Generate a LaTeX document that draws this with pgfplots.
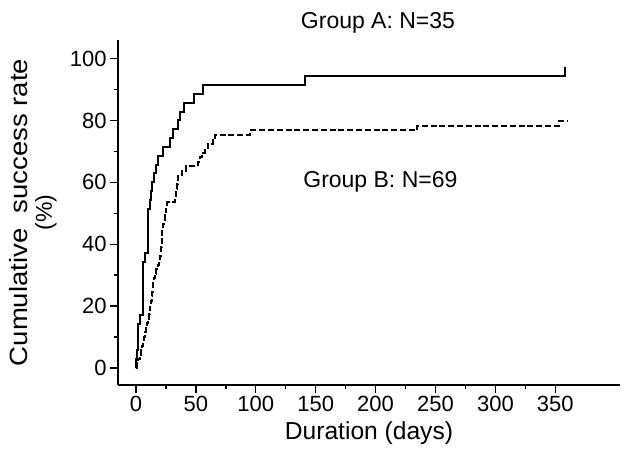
\documentclass[border=0pt]{standalone}
\usepackage{fontspec}
\setmainfont{Liberation Sans}
\usepackage{graphicx}
\usepackage{pgfplots}
\usepackage{pgfplotstable}
\pgfplotsset{compat=1.18}

% Group A, N=35 (cumulative %, steps of 1/35)
\pgfplotstableread{
day rate
0    0
0.3  2.86
0.6  5.71
1.7  14.29
3    17.14
5.8  34.29
7.2  37.14
10   51.43
11.4 54.29
12.5 57.14
13.5 60.00
15   62.86
16.5 65.71
18.5 68.57
22.8 71.43
28   74.29
31   77.14
35.4 80.00
37   82.86
40   85.71
48.5 88.57
55.7 91.43
141  94.29
358  97.14
}\groupA

% Group B, N=69 (cumulative %, steps of 1/69)
\pgfplotstableread{
day rate
0    0
0.5  1.45
1.5  2.90
3    4.35
4.2  5.80
5    7.25
5.8  8.70
6.5  10.14
7.2  11.59
8    13.04
9    14.49
9.8  15.94
10.5 17.39
11.3 18.84
12   20.29
12.8 21.74
13.2 23.19
13.6 24.64
14   26.09
14.4 27.54
15   28.99
15.6 30.43
17   31.88
18.4 33.33
19.5 34.78
20.3 36.23
21   37.68
21.2 39.13
21.4 40.58
21.6 42.03
21.8 43.48
22   44.93
22.5 46.38
23.2 47.83
24   49.28
24.8 50.72
25.4 52.17
26   53.62
32.5 55.07
33.2 56.52
33.8 57.97
34.3 59.42
34.7 60.87
35.2 62.32
38   63.77
41.5 65.22
51.5 66.67
53.5 68.12
55   69.57
57.6 71.01
60   72.46
64   73.91
66   75.36
95   76.81
234.5 78.26
353  79.71
361  79.71
}\groupB

\begin{document}
\begin{tikzpicture}
\begin{axis}[
  scale only axis,
  width=251pt, height=172.5pt,
  xmin=-15, xmax=404,
  ymin=-5.5, ymax=106,
  axis x line=bottom, axis y line=left,
  axis line style={-, line width=0.8pt},
  xtick={0,50,...,350}, minor x tick num=1,
  ytick={0,20,...,100}, minor y tick num=1,
  tick align=outside,
  major tick length=4pt, minor tick length=2pt,
  tick style={line width=0.7pt, black},
  /pgf/number format/assume math mode=true,
  ticklabel style={font=\fontsize{11}{13}\selectfont},
  xticklabel style={inner sep=1.5pt},
  yticklabel style={inner sep=1.5pt},
  clip=false,
  xlabel={Duration (days)},
  every axis x label/.style={at={([yshift=-18pt]axis description cs:0.5,0)},
    anchor=north, inner sep=0pt, font=\fontsize{12.3}{14}\selectfont},
  ylabel={\scalebox{1.1}[1]{Cumulative\ \ success rate}\\{\fontsize{11.5}{12}\selectfont(\%)}},
  every axis y label/.style={at={([xshift=-30.5pt]axis description cs:0,0.5)},
    anchor=south, rotate=90, inner sep=0pt, align=center,
    font=\fontsize{12.5}{12}\selectfont},
]
\addplot[const plot, black, line width=1pt] table[x=day, y=rate] {\groupA};
\addplot[const plot, black, line width=1pt, dash pattern=on 3pt off 1.4pt] table[x=day, y=rate] {\groupB};
\node[font=\fontsize{11.5}{13}\selectfont] at (axis cs:202,111.6) {Group A: N=35};
\node[font=\fontsize{11.5}{13}\selectfont] at (axis cs:204,60) {Group B: N=69};
\end{axis}
\path ([shift={(-59pt,-34pt)}]current axis.south west) rectangle ([shift={(5pt,20pt)}]current axis.north east);
\end{tikzpicture}
\end{document}
